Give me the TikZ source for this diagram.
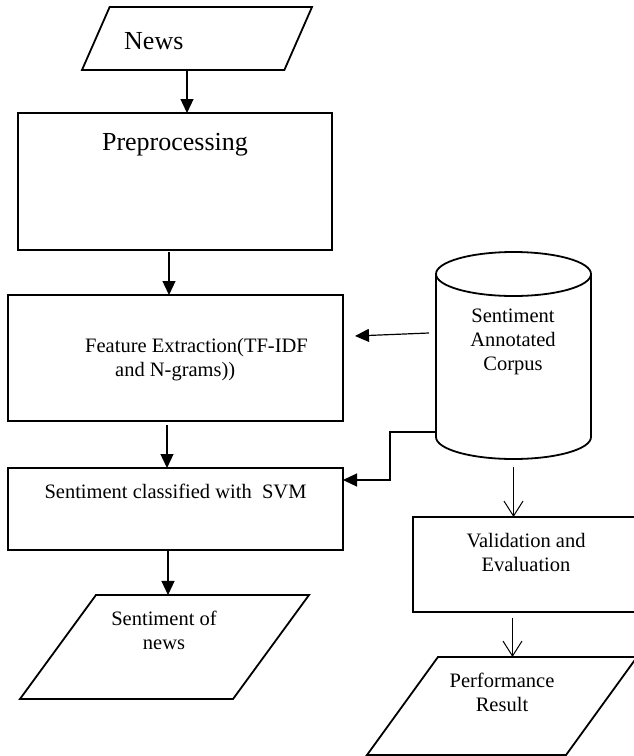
\documentclass[tikz,border=0pt]{standalone}
\usepackage{fontspec}
\setmainfont{Liberation Serif}
\usetikzlibrary{shapes.geometric,arrows.meta}

\begin{document}
\begin{tikzpicture}[x=1pt, y=-1pt,
	box/.style={draw, line width=1.8pt, inner sep=0pt, outer sep=0pt},
	io/.style={box, trapezium, trapezium stretches=true, inner sep=1pt},
	shell/.style={line width=1.8pt},
	txt/.style={anchor=base, inner sep=0pt, align=center, font=\fontsize{20.5}{24}\selectfont},
	big/.style={font=\fontsize{26}{30}\selectfont},
	arr/.style={line width=1.2pt, arrows={-Triangle[length=14pt,width=13pt]}},
	varr/.style={line width=1pt, arrows={-Straight Barb[length=15pt,width=19pt]}}]
	\useasboundingbox (0,0) rectangle (634,756);
	\node[io, trapezium left angle=81, trapezium right angle=99, minimum width=230pt, minimum height=63pt] (news) at (197,38.5) {};
	\node[box, minimum width=314pt, minimum height=137pt] (pre) at (175,181.5) {};
	\node[box, minimum width=335pt, minimum height=126pt] (feat) at (175.5,358) {};
	\node[box, minimum width=335pt, minimum height=82pt] (svm) at (175.5,509) {};
	\node[io, trapezium left angle=61, trapezium right angle=119, minimum width=289pt, minimum height=104pt] (sent) at (164.5,647) {};
	\node[inner sep=0pt, outer sep=0pt, minimum width=155pt, minimum height=207pt] (corpus) at (513.5,355.5) {};
	\draw[shell] ([yshift=-22pt]corpus.north west) -- ([yshift=22pt]corpus.south west) arc[start angle=180, end angle=360, x radius=77.5pt, y radius=22pt] -- ([yshift=-22pt]corpus.north east);
	\draw[shell] ([yshift=-22pt]corpus.north) ellipse[x radius=77.5pt, y radius=22pt];
	\node[box, minimum width=227pt, minimum height=95pt] (valid) at (526.5,564.5) {};
	\node[io, trapezium left angle=61, trapezium right angle=119, minimum width=270pt, minimum height=98pt] (perf) at (502,706) {};
	\node[txt, big, anchor=base west] (newsLbl) at (124,49) {News};
	\node[txt, big] (preLbl) at (175,150) {Preprocessing};
	\node[txt, anchor=base west, align=left] (featLbl) at (85,376) {Feature Extraction(TF-IDF\\\hspace*{30pt}and N-grams))};
	\node[txt] (svmLbl) at (175.5,498) {Sentiment classified with\ \ SVM};
	\node[txt] (sentLbl) at (164,649) {Sentiment of\\news};
	\node[txt] (corpusLbl) at (513,370) {Sentiment\\Annotated\\Corpus};
	\node[txt] (validLbl) at (526,571) {Validation and\\Evaluation};
	\node[txt] (perfLbl) at (502,711) {Performance\\Result};
	\draw[arr] ([xshift=-10pt]news.south) -- ([xshift=-10pt]news.south |- pre.north);
	\draw[arr] ([xshift=-6pt,yshift=-2pt]pre.south) -- ([xshift=-6pt]pre.south |- feat.north);
	\draw[arr] ([xshift=-8.5pt,yshift=-4pt]feat.south) -- ([xshift=-8.5pt]feat.south |- svm.north);
	\draw[arr] ([xshift=-7.5pt]svm.south) -- ([xshift=-7.5pt]svm.south |- sent.north);
	\draw[arr] ([xshift=-7pt,yshift=22.5pt]corpus.west) -- ([xshift=12pt,yshift=22pt]feat.east);
	\draw[arr] ([yshift=-76.5pt]corpus.west) -- ++(-46,0) |- ([yshift=29pt]svm.east);
	\draw[varr] ([yshift=-8pt]corpus.south) -- (corpus.south |- valid.north);
	\draw[varr] ([xshift=-14pt,yshift=-6pt]valid.south) -- ([xshift=-14pt]valid.south |- perf.north);
\end{tikzpicture}
\end{document}
